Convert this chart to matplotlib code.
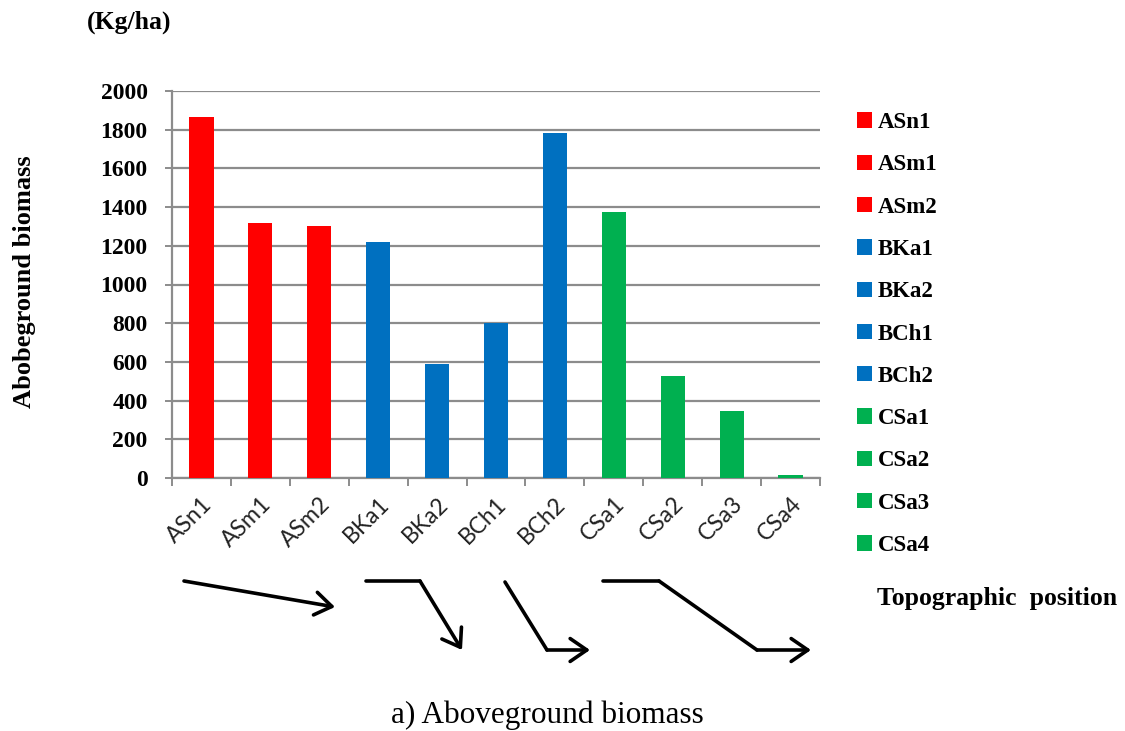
import matplotlib
matplotlib.use("Agg")
import matplotlib.pyplot as plt
from matplotlib.patches import Patch, FancyArrowPatch
from matplotlib.lines import Line2D
import numpy as np

# data
sites = ["ASn1", "ASm1", "ASm2", "BKa1", "BKa2", "BCh1", "BCh2",
         "CSa1", "CSa2", "CSa3", "CSa4"]
biomass = [1868, 1320, 1300, 1220, 590, 802, 1784, 1377, 525, 345, 15]
groups = ["A", "A", "A", "B", "B", "B", "B", "C", "C", "C", "C"]
group_colors = {"A": "#ff0000", "B": "#0070c0", "C": "#00b050"}
yticks = list(range(0, 2001, 200))

SERIF = "Liberation Serif"
W, H = 1125, 731

fig = plt.figure(figsize=(W / 100, H / 100), dpi=100)
ax = fig.add_axes([172 / W, 1 - 478 / H, (820 - 172) / W, (478 - 91) / H])

x = np.arange(len(sites))
colors = [group_colors[g] for g in groups]
ax.bar(x, biomass, width=0.41, color=colors, zorder=3)

ax.set_xlim(-0.5, len(sites) - 0.5)
ax.set_ylim(0, 2000)
ax.set_yticks(yticks)
ax.set_yticklabels([str(v) for v in yticks], fontfamily=SERIF,
                   fontweight="bold", fontsize=17)
ax.yaxis.grid(True, color="#8c8c8c", linewidth=1.6, zorder=0)
ax.tick_params(axis="y", length=5, width=1.4, color="#8c8c8c", pad=12.5)

# tick marks between categories, labels at centres
ax.set_xticks(x)
ax.set_xticklabels(sites, rotation=45, ha="right", rotation_mode="anchor",
                   fontfamily="Lato", fontsize=16.5, color="#222222")
ax.set_xticks(np.arange(-0.5, len(sites)), minor=True)
ax.tick_params(axis="x", which="major", length=0, pad=11)
ax.tick_params(axis="x", which="minor", length=6, width=1.4, color="#8c8c8c")

for s in ["top", "right"]:
    ax.spines[s].set_visible(False)
for s in ["left", "bottom"]:
    ax.spines[s].set_color("#8c8c8c")
    ax.spines[s].set_linewidth(1.6)

handles = [Patch(facecolor=c, edgecolor="none") for c in colors]
fig.legend(handles, sites, loc="upper left", bbox_to_anchor=(857 / W, 1 - 112 / H),
           frameon=False, prop={"family": SERIF, "weight": "bold", "size": 16.5},
           handlelength=0.65, handleheight=0.65, handletextpad=0.25,
           labelspacing=0.93, borderaxespad=0, borderpad=0)

fig.text(87 / W, 1 - 22 / H, "(Kg/ha)", fontfamily=SERIF, fontweight="bold",
         fontsize=18.5, va="center", ha="left")
fig.text(25 / W, 1 - 282 / H, "Abobeground biomass", rotation=90,
         fontfamily=SERIF, fontweight="bold", fontsize=19, va="center", ha="center")
fig.text(997 / W, 1 - 598 / H, "Topographic  position", fontfamily=SERIF,
         fontweight="bold", fontsize=18.5, va="center", ha="center")
fig.text(547 / W, 1 - 715 / H, "a) Aboveground biomass", fontfamily=SERIF,
         fontsize=22.5, va="center", ha="center")

# slope sketches under the axis (pixel coords of the figure)
paths = [
    [(184, 581), (335, 607)],
    [(366, 581), (420, 581), (462, 650)],
    [(505, 582), (547, 650), (590, 650)],
    [(603, 581), (659, 581), (757, 650), (811, 650)],
]


def fx(p):
    return (p[0] / W, 1 - p[1] / H)


for pts in paths:
    for a, b in zip(pts[:-2], pts[1:-1]):
        fa, fb = fx(a), fx(b)
        fig.add_artist(Line2D([fa[0], fb[0]], [fa[1], fb[1]], color="black",
                              linewidth=2.6, transform=fig.transFigure,
                              solid_capstyle="round"))
    fig.add_artist(FancyArrowPatch(
        fx(pts[-2]), fx(pts[-1]), transform=fig.transFigure,
        arrowstyle="->,head_length=8,head_width=5.5", color="black",
        linewidth=2.6, shrinkA=0, shrinkB=0, mutation_scale=1.5))

fig.savefig("out.png", dpi=100)
